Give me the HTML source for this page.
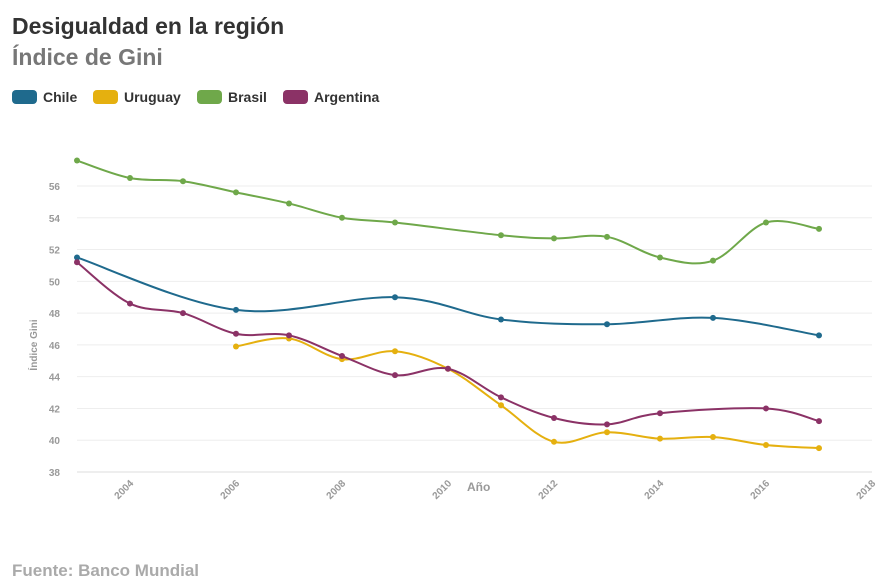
<!DOCTYPE html>
<html><head><meta charset="utf-8"><style>
body{margin:0;background:#fff;width:896px;height:575px;overflow:hidden;font-family:"Liberation Sans",sans-serif}
.t{position:absolute;left:12px;top:13px;font-size:23px;font-weight:bold;color:#333}
.s{position:absolute;left:12px;top:44px;font-size:23px;font-weight:bold;color:#777}
.lg{position:absolute;top:89px;font-size:14px;font-weight:bold;color:#333;display:flex;align-items:center}
.lg i{display:inline-block;width:25px;height:14px;border-radius:4px;margin-right:6px}
.f{position:absolute;left:12px;top:561px;font-size:17px;font-weight:bold;color:#aaa}
</style></head><body>
<div class="t">Desigualdad en la región</div>
<div class="s">Índice de Gini</div>
<div class="lg" style="left:12px"><i style="background:#1f6a8d"></i>Chile</div>
<div class="lg" style="left:93px"><i style="background:#e5b00f"></i>Uruguay</div>
<div class="lg" style="left:197px"><i style="background:#6fa84a"></i>Brasil</div>
<div class="lg" style="left:283px"><i style="background:#8b3266"></i>Argentina</div>
<svg id="c" width="896" height="575" style="position:absolute;left:0;top:0"></svg>
<div class="f">Fuente: Banco Mundial</div>
<script>
const X=y=>77+(y-2003)*53, Y=v=>472-(v-38)*15.89;
let s='';
for(let v=38;v<=56;v+=2){s+=`<line x1="77" x2="872" y1="${Y(v)}" y2="${Y(v)}" stroke="${v==38?'#ddd':'#eee'}"/>`;
s+=`<text x="60" y="${Y(v)+4}" text-anchor="end" font-size="10" font-weight="bold" fill="#999">${v}</text>`;}
for(let y=2004;y<=2018;y+=2){s+=`<text transform="translate(${X(y)+4},${484}) rotate(-45)" text-anchor="end" font-size="10" font-weight="bold" fill="#999">${y}</text>`;}
s+=`<text x="467" y="491" font-size="12" font-weight="bold" fill="#999">Año</text>`;
s+=`<text transform="translate(37,345) rotate(-90)" text-anchor="middle" font-size="10" font-weight="bold" fill="#999">Índice Gini</text>`;
const D={
'#6fa84a':[[2003,57.6],[2004,56.5],[2005,56.3],[2006,55.6],[2007,54.9],[2008,54.0],[2009,53.7],[2011,52.9],[2012,52.7],[2013,52.8],[2014,51.5],[2015,51.3],[2016,53.7],[2017,53.3]],
'#1f6a8d':[[2003,51.5],[2006,48.2],[2009,49.0],[2011,47.6],[2013,47.3],[2015,47.7],[2017,46.6]],
'#e5b00f':[[2006,45.9],[2007,46.4],[2008,45.1],[2009,45.6],[2010,44.5],[2011,42.2],[2012,39.9],[2013,40.5],[2014,40.1],[2015,40.2],[2016,39.7],[2017,39.5]],
'#8b3266':[[2003,51.2],[2004,48.6],[2005,48.0],[2006,46.7],[2007,46.6],[2008,45.3],[2009,44.1],[2010,44.5],[2011,42.7],[2012,41.4],[2013,41.0],[2014,41.7],[2016,42.0],[2017,41.2]]};
for(const c in D){const p=D[c].map(d=>[X(d[0]),Y(d[1])]);let d=`M${p[0]}`;
for(let i=0;i<p.length-1;i++){const a=p[i-1]||p[i],b=p[i],e=p[i+1],f=p[i+2]||e,k=0.17;
d+=` C${b[0]+(e[0]-a[0])*k},${b[1]+(e[1]-a[1])*k} ${e[0]-(f[0]-b[0])*k},${e[1]-(f[1]-b[1])*k} ${e[0]},${e[1]}`;}
s+=`<path d="${d}" fill="none" stroke="${c}" stroke-width="2"/>`;
p.forEach(q=>s+=`<circle cx="${q[0]}" cy="${q[1]}" r="3" fill="${c}"/>`);}
document.getElementById('c').innerHTML=s;
</script>
</body></html>
